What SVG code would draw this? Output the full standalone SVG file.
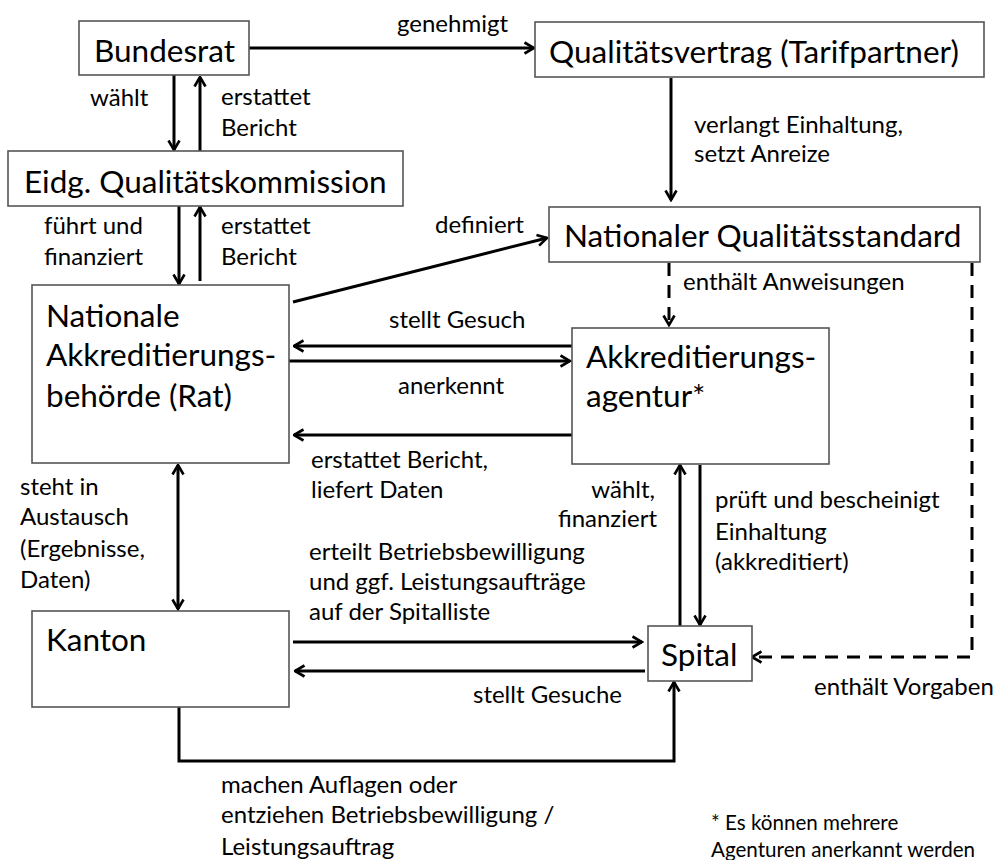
<svg xmlns="http://www.w3.org/2000/svg" width="1002" height="860" viewBox="0 0 1002 860">
<style>
.box{fill:#fff;stroke:#555;stroke-width:1.6}
.n{font-family:Lato,"Liberation Sans",sans-serif;font-size:31.5px;fill:#000}
.l{font-family:Lato,"Liberation Sans",sans-serif;font-size:24px;fill:#000}
.f{font-size:20.6px}
.c{fill:none;stroke:#000;stroke-width:3}
.d{fill:none;stroke:#000;stroke-width:3;stroke-dasharray:13 9}
</style>
<defs>
<marker id="ah" viewBox="0 0 14 14" refX="12.5" refY="7" markerWidth="14" markerHeight="14" markerUnits="userSpaceOnUse" orient="auto-start-reverse">
<path d="M3,1.5 L12.5,7 L3,12.5" fill="none" stroke="#000" stroke-width="2.6"/>
</marker>
</defs>
<rect width="1002" height="860" fill="#fff"/>
<g id="connectors">
<path class="c" d="M249,48 H534" marker-end="url(#ah)"/>
<path class="c" d="M174,75 V150" marker-end="url(#ah)"/>
<path class="c" d="M200,151 V77" marker-end="url(#ah)"/>
<path class="c" d="M179,206 V284" marker-end="url(#ah)"/>
<path class="c" d="M200,281 V207" marker-end="url(#ah)"/>
<path class="c" d="M671,78 V200" marker-end="url(#ah)"/>
<path class="c" d="M293,302 L547,238" marker-end="url(#ah)"/>
<path class="d" d="M669,263 V325" marker-end="url(#ah)"/>
<path class="c" d="M572,346 H294" marker-end="url(#ah)"/>
<path class="c" d="M289,361 H570" marker-end="url(#ah)"/>
<path class="c" d="M572,435 H294" marker-end="url(#ah)"/>
<path class="c" d="M178,465 V609" marker-start="url(#ah)" marker-end="url(#ah)"/>
<path class="c" d="M293,642 H642" marker-end="url(#ah)"/>
<path class="c" d="M645,671 H295" marker-end="url(#ah)"/>
<path class="c" d="M680,626 V465" marker-end="url(#ah)"/>
<path class="c" d="M700,465 V625" marker-end="url(#ah)"/>
<path class="d" d="M972,263 V657 H752" marker-end="url(#ah)"/>
<path class="c" d="M179,707 V761 H674 V682" marker-end="url(#ah)"/>
</g>
<g id="bundesrat">
<rect class="box" x="79" y="21" width="170" height="54"/>
<text class="n" x="94" y="62">Bundesrat</text>
</g>
<g id="qualitaetsvertrag">
<rect class="box" x="535" y="22" width="449" height="55"/>
<text class="n" x="549" y="63">Qualitätsvertrag (Tarifpartner)</text>
</g>
<g id="kommission">
<rect class="box" x="8" y="151" width="395" height="55"/>
<text class="n" x="24" y="193">Eidg. Qualitätskommission</text>
</g>
<g id="standard">
<rect class="box" x="549" y="207" width="431" height="55"/>
<text class="n" x="564" y="247">Nationaler Qualitätsstandard</text>
</g>
<g id="behoerde">
<rect class="box" x="32" y="285" width="257" height="178"/>
<text class="n" x="46" y="327">Nationale</text>
<text class="n" x="46" y="366">Akkreditierungs-</text>
<text class="n" x="46" y="407">behörde (Rat)</text>
</g>
<g id="agentur">
<rect class="box" x="572" y="328" width="257" height="136"/>
<text class="n" x="586" y="368">Akkreditierungs-</text>
<text class="n" x="586" y="407">agentur*</text>
</g>
<g id="kanton">
<rect class="box" x="32" y="611" width="257" height="96"/>
<text class="n" x="46" y="651">Kanton</text>
</g>
<g id="spital">
<rect class="box" x="648" y="626" width="104" height="55"/>
<text class="n" x="661" y="666">Spital</text>
</g>
<g id="labels">
<text class="l" x="397" y="32">genehmigt</text>
<text class="l" x="90" y="106">wählt</text>
<text class="l" x="221" y="105">erstattet</text>
<text class="l" x="221" y="136">Bericht</text>
<text class="l" x="44" y="234">führt und</text>
<text class="l" x="44" y="265">finanziert</text>
<text class="l" x="221" y="234">erstattet</text>
<text class="l" x="221" y="265">Bericht</text>
<text class="l" x="694" y="133">verlangt Einhaltung,</text>
<text class="l" x="694" y="162">setzt Anreize</text>
<text class="l" x="435" y="233">definiert</text>
<text class="l" x="683" y="290">enthält Anweisungen</text>
<text class="l" x="389" y="328">stellt Gesuch</text>
<text class="l" x="398" y="394">anerkennt</text>
<text class="l" x="311" y="468">erstattet Bericht,</text>
<text class="l" x="311" y="498">liefert Daten</text>
<text class="l" x="20" y="495">steht in</text>
<text class="l" x="20" y="525">Austausch</text>
<text class="l" x="20" y="557">(Ergebnisse,</text>
<text class="l" x="20" y="588">Daten)</text>
<text class="l" x="655" y="498" text-anchor="end">wählt,</text>
<text class="l" x="657" y="527" text-anchor="end">finanziert</text>
<text class="l" x="715" y="508">prüft und bescheinigt</text>
<text class="l" x="715" y="540">Einhaltung</text>
<text class="l" x="715" y="570">(akkreditiert)</text>
<text class="l" x="309" y="560">erteilt Betriebsbewilligung</text>
<text class="l" x="309" y="590">und ggf. Leistungsaufträge</text>
<text class="l" x="309" y="620">auf der Spitalliste</text>
<text class="l" x="473" y="703">stellt Gesuche</text>
<text class="l" x="814" y="695">enthält Vorgaben</text>
<text class="l" x="221" y="793">machen Auflagen oder</text>
<text class="l" x="221" y="823">entziehen Betriebsbewilligung /</text>
<text class="l" x="221" y="855">Leistungsauftrag</text>
<text class="l f" x="711" y="830">* Es können mehrere</text>
<text class="l f" x="711" y="857">Agenturen anerkannt werden</text>
</g>
</svg>
